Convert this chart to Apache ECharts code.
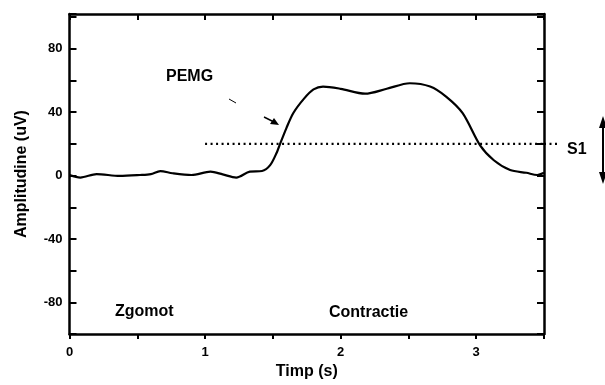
<!DOCTYPE html>
<html><head><meta charset="utf-8">
<script src="https://cdn.jsdelivr.net/npm/echarts@6/dist/echarts.min.js"></script>
<style>html,body{margin:0;padding:0;background:#fff}#c{width:605px;height:385px}</style>
</head><body><div id="c"></div>
<script>
var timeS = [0, 0.08, 0.2, 0.37, 0.52, 0.6, 0.67, 0.76, 0.9, 1.04, 1.13, 1.23, 1.33, 1.42, 1.48, 1.53, 1.55, 1.60, 1.65, 1.73, 1.80, 1.87, 2.0, 2.18, 2.34, 2.51, 2.66, 2.78, 2.9, 3.03, 3.13, 3.25, 3.37, 3.45, 3.5];
var amplitude = [0.4, -1.2, 1, -0.2, 0.4, 1, 2.9, 1.5, 0.4, 2.5, 0.8, -1.2, 2.5, 2.9, 6.6, 14.8, 19.3, 30, 39.4, 48.6, 54.4, 56.2, 54.8, 51.7, 54.8, 58.3, 56.2, 49.7, 39.4, 18.9, 9.7, 3.5, 1.8, 0.4, 1.8];
var thresholdT = [1, 3.5];
var thresholdV = [20, 20];
var thresholdEndT = 3.62;
var xLabels = ['0', '1', '2', '3'];
var yLabels = ['-80', '-40', '0', '40', '80'];

var font = '"Liberation Sans", Arial, sans-serif';
var chart = echarts.init(document.getElementById('c'), null, {renderer: 'canvas'});
function pair(a, b) { return a.map(function (v, i) { return [v, b[i]]; }); }
var axLine = {show: true, onZero: false, lineStyle: {color: '#000', width: 2.5}};
var option = {
  animation: false,
  grid: {left: 69.5, right: 61, top: 14, bottom: 41, containLabel: false},
  xAxis: [{
    type: 'value', min: 0, max: 3.5, interval: 0.5, position: 'bottom',
    axisLine: axLine,
    axisTick: {show: true, inside: false, length: 5, lineStyle: {color: '#000', width: 2}},
    splitLine: {show: false},
    axisLabel: {margin: 12, color: '#000', fontFamily: font, fontWeight: 'bold', fontSize: 13,
      formatter: function (v) { return xLabels.indexOf(String(v)) >= 0 ? String(v) : ''; }},
    name: 'Timp (s)', nameLocation: 'middle', nameGap: 27,
    nameTextStyle: {color: '#000', fontFamily: font, fontWeight: 'bold', fontSize: 16}
  }, {
    type: 'value', min: 0, max: 3.5, interval: 0.5, position: 'top',
    axisLine: axLine,
    axisTick: {show: true, inside: true, length: 6, lineStyle: {color: '#000', width: 2}},
    splitLine: {show: false}, axisLabel: {show: false}
  }],
  yAxis: [{
    type: 'value', min: -100, max: 102, interval: 20, position: 'left',
    axisLine: axLine,
    axisTick: {show: true, inside: true, length: 7, lineStyle: {color: '#000', width: 2}},
    splitLine: {show: false},
    axisLabel: {margin: 7, color: '#000', fontFamily: font, fontWeight: 'bold', fontSize: 13,
      formatter: function (v) { return yLabels.indexOf(String(v)) >= 0 ? String(v) : ''; }},
    name: 'Amplitudine (uV)', nameLocation: 'middle', nameGap: 40,
    nameTextStyle: {color: '#000', fontFamily: font, fontWeight: 'bold', fontSize: 16}
  }, {
    type: 'value', min: -100, max: 102, interval: 20, position: 'right',
    axisLine: axLine,
    axisTick: {show: true, inside: true, length: 7, lineStyle: {color: '#000', width: 2}},
    splitLine: {show: false}, axisLabel: {show: false}
  }],
  series: [{
    type: 'line', data: pair(timeS, amplitude), smooth: 0.3, showSymbol: false,
    lineStyle: {color: '#000', width: 2.2}
  }, {
    type: 'line', data: pair(thresholdT, thresholdV), showSymbol: false,
    lineStyle: {color: '#000', width: 2.2, type: [2, 3.5]}
  }]
};
chart.setOption(option);

var p0 = chart.convertToPixel({xAxisIndex: 0, yAxisIndex: 0}, [thresholdT[1], thresholdV[1]]);
var p1 = chart.convertToPixel({xAxisIndex: 0, yAxisIndex: 0}, [thresholdEndT, thresholdV[1]]);
var txt = {fill: '#000', fontFamily: font, fontWeight: 'bold', fontSize: 16};
chart.setOption({graphic: [
  {type: 'line', shape: {x1: p0[0], y1: p0[1], x2: p1[0], y2: p1[1]}, style: {stroke: '#000', lineWidth: 2.2, lineDash: [2, 3.5]}},
  {type: 'text', left: 166, top: 69, style: Object.assign({text: 'PEMG'}, txt)},
  {type: 'text', left: 115, top: 304, style: Object.assign({text: 'Zgomot'}, txt)},
  {type: 'text', left: 329, top: 305, style: Object.assign({text: 'Contractie'}, txt)},
  {type: 'text', left: 567, top: 142, style: Object.assign({text: 'S1'}, txt)},
  {type: 'line', shape: {x1: 229, y1: 99, x2: 236, y2: 103}, style: {stroke: '#000', lineWidth: 1}},
  {type: 'line', shape: {x1: 264, y1: 117, x2: 274, y2: 122}, style: {stroke: '#000', lineWidth: 1.5}},
  {type: 'polygon', shape: {points: [[279, 125], [270, 124], [274, 118]]}, style: {fill: '#000'}},
  {type: 'line', shape: {x1: 603, y1: 122, x2: 603, y2: 178}, style: {stroke: '#000', lineWidth: 2}},
  {type: 'polygon', shape: {points: [[603, 116], [599, 128], [607, 128]]}, style: {fill: '#000'}},
  {type: 'polygon', shape: {points: [[603, 184], [599, 172], [607, 172]]}, style: {fill: '#000'}}
]});
</script></body></html>
